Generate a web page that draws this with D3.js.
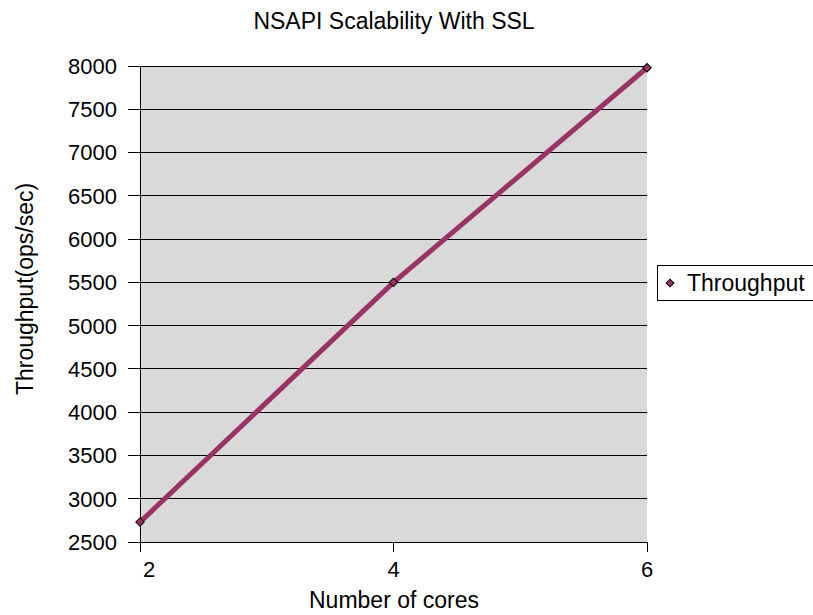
<!DOCTYPE html>
<html><head><meta charset="utf-8">
<script src="https://cdn.jsdelivr.net/npm/d3@7"></script>
<style>body{margin:0;background:#fff;}svg{display:block;font-family:"Liberation Sans",Arial,sans-serif;}</style>
</head><body>
<svg id="c" width="813" height="615"></svg>
<script>
const categories = [2, 4, 6];
const throughput = [2730, 5500, 7980];
const yTicks = [2500,3000,3500,4000,4500,5000,5500,6000,6500,7000,7500,8000];
const seriesName = "Throughput";
const title = "NSAPI Scalability With SSL";
const xTitle = "Number of cores";
const yTitle = "Throughput(ops/sec)";

const svg = d3.select("#c");
const L = 140, R = 647, T = 66, B = 542;
const x = d3.scalePoint().domain(categories).range([L, R]);
const y = d3.scaleLinear().domain([2500, 8000]).range([B, T]);

svg.append("rect").attr("x", L).attr("y", T).attr("width", R - L).attr("height", B - T).attr("fill", "#d9d9d9");

// gridlines
svg.append("g").selectAll("line").data(yTicks).join("line")
  .attr("x1", L - 12).attr("x2", R).attr("y1", d => y(d)).attr("y2", d => y(d))
  .attr("stroke", "#000").attr("stroke-width", 1).attr("shape-rendering", "crispEdges");

// axes
svg.append("line").attr("x1", L).attr("x2", L).attr("y1", T).attr("y2", B + 10).attr("stroke", "#000").attr("shape-rendering", "crispEdges");
svg.append("line").attr("x1", L).attr("x2", R).attr("y1", B).attr("y2", B).attr("stroke", "#000").attr("shape-rendering", "crispEdges");
svg.append("g").selectAll("line").data(categories).join("line")
  .attr("x1", d => x(d)).attr("x2", d => x(d)).attr("y1", B).attr("y2", B + 10)
  .attr("stroke", "#000").attr("shape-rendering", "crispEdges");

// tick labels
svg.append("g").selectAll("text").data(yTicks).join("text")
  .attr("x", L - 23).attr("y", d => y(d)).attr("dy", "0.36em").attr("text-anchor", "end")
  .attr("font-size", 22).text(d => d);
svg.append("g").selectAll("text").data(categories).join("text")
  .attr("x", d => x(d)).attr("dx", (d, i) => i === 0 ? 9 : 0).attr("y", B + 35).attr("text-anchor", "middle")
  .attr("font-size", 22).text(d => d);

// titles
svg.append("text").attr("x", 394).attr("y", 29).attr("text-anchor", "middle").attr("font-size", 23).text(title);
svg.append("text").attr("x", 394).attr("y", 608).attr("text-anchor", "middle").attr("font-size", 23).text(xTitle);
svg.append("text").attr("transform", "translate(33,289) rotate(-90)").attr("text-anchor", "middle").attr("font-size", 23).text(yTitle);

// line
const line = d3.line().x((d, i) => x(categories[i])).y(d => y(d));
svg.append("path").datum(throughput).attr("d", line).attr("fill", "none")
  .attr("stroke", "#993366").attr("stroke-width", 5);

svg.append("g").selectAll("path").data(throughput).join("path")
  .attr("transform", (d, i) => `translate(${x(categories[i])},${y(d)}) rotate(45)`)
  .attr("d", d3.symbol().type(d3.symbolSquare).size(36))
  .attr("fill", "#993366").attr("stroke", "#000").attr("stroke-width", 1);

// legend
const lg = svg.append("g");
lg.append("rect").attr("x", 657.5).attr("y", 265.5).attr("width", 170).attr("height", 35)
  .attr("fill", "#fff").attr("stroke", "#000");
lg.append("path").attr("transform", "translate(670,283) rotate(45)")
  .attr("d", d3.symbol().type(d3.symbolSquare).size(30))
  .attr("fill", "#993366").attr("stroke", "#000").attr("stroke-width", 1);
lg.append("text").attr("x", 687).attr("y", 283).attr("dy", "0.36em").attr("font-size", 23).text(seriesName);
</script>
</body></html>
